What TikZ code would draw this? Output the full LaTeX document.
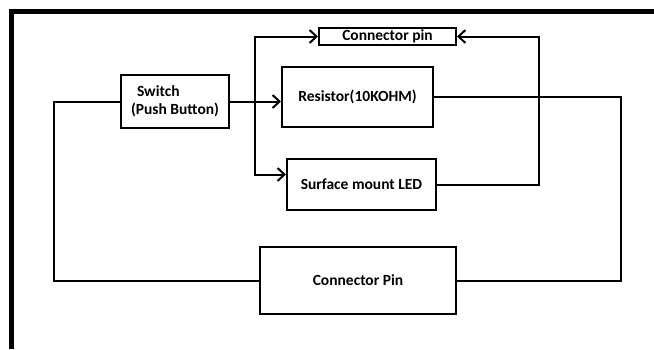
\documentclass[tikz,border=0pt]{standalone}
\usepackage{fontspec}
\setmainfont{Carlito}
\usetikzlibrary{arrows.meta,positioning,calc}
\begin{document}
\begin{tikzpicture}[
  x=1pt, y=-1pt,
  font=\fontsize{15.5}{18}\selectfont\bfseries,
  box/.style={rectangle, draw=black, line width=2pt, fill=white,
    inner sep=0pt, align=center},
  wire/.style={line width=2pt, line join=miter},
  flow/.style={wire, -{Straight Barb[length=7pt,width=13pt,line width=2pt]}},
  frame/.style={line width=5pt},
]
\useasboundingbox (0,0) rectangle (654,349);
% ---------------------------------------------------------------- frame
\draw[frame] (11,349) -- (11,11) -- (654,11);
% ---------------------------------------------------------------- blocks
\node[box, minimum width=108, minimum height=53, align=left] (sw) at (175,101.5)
  {\hspace*{6pt}Switch\\(Push Button)};
\node[box, minimum width=137, minimum height=17] (pintop) at (387.5,36.5) {Connector pin};
\node[box, minimum width=151, minimum height=60] (res) at (357.5,97) {Resistor(10KOHM)};
\node[box, minimum width=149, minimum height=51] (led) at (361.5,184.5) {Surface mount LED};
\node[box, minimum width=196, minimum height=67] (pinbot) at (358,280.5) {Connector Pin};
% ---------------------------------------------------------------- wires
\coordinate (br) at ($(sw.east)!0.49!(sw.east -| res.west)$);
\draw[flow] (sw.east) -- (sw.east -| res.west);
\draw[flow] (br) |- (pintop.west);
\draw[flow] (br) |- ([yshift=10pt]led.west);
\draw[wire] (res.east) -- ++(187,0) |- (pinbot.east);
\draw[flow] (led.east) -- ++(102,0) |- (pintop.east);
\draw[wire] (sw.west) -- ++(-66,0) |- (pinbot.west);
\end{tikzpicture}
\end{document}
